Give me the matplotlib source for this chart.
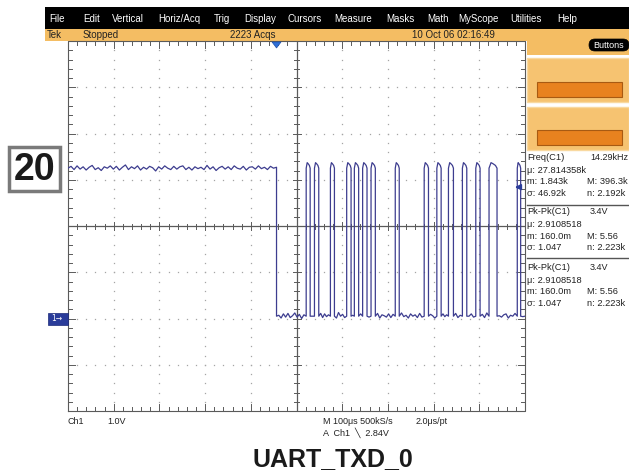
import numpy as np
import matplotlib
matplotlib.use("Agg")
import matplotlib.pyplot as plt
from matplotlib.patches import Rectangle, FancyBboxPatch, Polygon

# ---------------- data ----------------
menu_items = ["File", "Edit", "Vertical", "Horiz/Acq", "Trig", "Display", "Cursors",
              "Measure", "Masks", "Math", "MyScope", "Utilities", "Help"]
status_items = ["Tek", "Stopped", "2223 Acqs", "10 Oct 06 02:16:49"]

volts_per_div = 1.0
time_per_div = 100.0          # microseconds
high_level = 3.25             # V
low_level = 0.05              # V
trigger_fall = -43.7          # us
pulse_rise = [21.2, 39.3, 74.2, 109.8, 126.6, 144.7, 163.1, 216.1, 279.4,
              307.1, 332.5, 363.0, 392.3, 421.3, 483.1]
pulse_fall = [29.9, 48.7, 83.0, 119.4, 136.0, 154.3, 172.5, 224.8, 288.8,
              316.5, 343.4, 372.6, 401.7, 438.8, 490.5]
high_ripple = [0.00, 0.04, -0.03, 0.05, -0.02, 0.03, -0.04, 0.02, 0.06, -0.03,
               0.01, -0.05, 0.03, 0.00, 0.05, -0.02, 0.04, -0.04, 0.02, 0.07,
               -0.03, 0.03, -0.01, 0.05, -0.04, 0.02, -0.02, 0.04, 0.01, -0.06,
               0.03, -0.02, 0.05, 0.00, -0.03, 0.04, -0.02, 0.03, 0.05, -0.03,
               0.02, -0.04, 0.03, -0.01, 0.02, -0.03, 0.06, -0.02, 0.03, -0.05,
               0.01, 0.04, -0.02, 0.03, -0.03, 0.05, 0.00, -0.02, 0.04, -0.04,
               0.02, 0.03, -0.02, 0.05, -0.01, 0.02, -0.03, 0.04, 0.00, 0.02]
low_ripple = [0.02, -0.04, 0.05, -0.02, 0.06, -0.03, 0.01, 0.07, -0.02, 0.04,
              -0.05, 0.03, 0.00, 0.06, -0.03, 0.05, -0.01, 0.03, -0.04, 0.08,
              0.00, 0.04, -0.03, 0.02, 0.05, -0.02, 0.06, -0.04, 0.03, 0.01,
              -0.02, 0.05, -0.03, 0.04, 0.07, -0.01, 0.02, -0.04, 0.05, 0.00,
              0.03, -0.03, 0.06, -0.02, 0.04, 0.01, -0.04, 0.05, -0.01, 0.03,
              0.06, -0.03, 0.02, 0.00, 0.05, -0.02, 0.04, -0.03, 0.07, 0.01,
              -0.02, 0.03, 0.05, -0.04, 0.02, 0.00, 0.06, -0.01, 0.03, -0.03,
              0.04, 0.01, -0.02, 0.05, 0.00, 0.03, -0.04, 0.06, 0.02, -0.01,
              0.04, -0.03, 0.02, 0.05, -0.02, 0.03, 0.00, -0.03, 0.04, 0.01]
pulse_overshoot = 0.12

meas_blocks = [
    [("Freq(C1)", "14.29kHz"), ("\u03bc: 27.814358k", ""), ("m: 1.843k", "M: 396.3k"), ("\u03c3: 46.92k", "n: 2.192k")],
    [("Pk-Pk(C1)", "3.4V"), ("\u03bc: 2.9108518", ""), ("m: 160.0m", "M: 5.56"), ("\u03c3: 1.047", "n: 2.223k")],
    [("Pk-Pk(C1)", "3.4V"), ("\u03bc: 2.9108518", ""), ("m: 160.0m", "M: 5.56"), ("\u03c3: 1.047", "n: 2.223k")],
]
ch_label = ["Ch1", "1.0V"]
horiz_label = ["M 100\u03bcs 500kS/s", "2.0\u03bcs/pt"]
trig_label = "A  Ch1  \u2572  2.84V"
trigger_level = 2.84
figure_number = "20"
caption = "UART_TXD_0"

# ---------------- layout ----------------
W, H = 629, 474
fig = plt.figure(figsize=(W / 100, H / 100), dpi=100)
fig.patch.set_facecolor("white")

bg = fig.add_axes([0, 0, 1, 1], zorder=0)
bg.set_xlim(0, W); bg.set_ylim(H, 0); bg.axis("off")

GL, GR, GT, GB = 68, 525, 41, 411
ax = fig.add_axes([GL / W, (H - GB) / H, (GR - GL) / W, (GB - GT) / H], zorder=1)
ax.patch.set_alpha(0)
ax.set_xlim(-5 * time_per_div, 5 * time_per_div)
ax.set_ylim(-2 * volts_per_div, 6 * volts_per_div)
ax.axis("off")

top = fig.add_axes([0, 0, 1, 1], zorder=3)
top.patch.set_alpha(0)
top.set_xlim(0, W); top.set_ylim(H, 0); top.axis("off")

font = ["Liberation Sans", "DejaVu Sans"]

# menu bar
bg.add_patch(Rectangle((45, 7), W - 45, 22, color="black", lw=0))
menu_x = [49, 83, 112, 158, 214, 244, 287, 334, 386, 427, 458, 510, 557]
for name, x in zip(menu_items, menu_x):
    bg.text(x, 18.5, name, color="white", fontsize=7, family=font, va="center", ha="left")

# status bar + right orange panel
orange = "#f4bd63"
bg.add_patch(Rectangle((45, 29), W - 45, 12, color=orange, lw=0))
bg.add_patch(Rectangle((527, 29), W - 527, 26, color=orange, lw=0))
status_x = [47, 83, 230, 412]
for name, x in zip(status_items, status_x):
    bg.text(x, 35, name, color="#222222", fontsize=7, family=font, va="center", ha="left")
for y0, y1, by in [(58, 102, 82), (107, 150, 130)]:
    bg.add_patch(Rectangle((527, y0), W - 527, y1 - y0, facecolor="#f6c371",
                           edgecolor="#f9d9a0", lw=1))
    bg.add_patch(Rectangle((537, by), 85, 15, facecolor="#e8821f",
                           edgecolor="#a85a12", lw=0.8))
bg.add_patch(FancyBboxPatch((589, 39), 40, 12, boxstyle="round,pad=0,rounding_size=6",
                            facecolor="black", edgecolor="black", lw=0.5))
bg.text(609, 45, "Buttons", color="white", fontsize=6.5, family=font, ha="center", va="center")

# measurement panel
block_y = [158, 212, 268]
line_dy = [0, 12.5, 24, 35.5]
for blk, y0 in zip(meas_blocks, block_y):
    for (a, b), dy in zip(blk, line_dy):
        bg.text(527, y0 + dy, a, fontsize=6.7, family=font, va="center", ha="left", color="#222222")
        if b:
            bx = 590 if dy == 0 else 587
            bg.text(bx, y0 + dy, b, fontsize=6.5 if dy == 0 else 6.7, family=font,
                    va="center", ha="left", color="#222222")
for ys in [205, 258]:
    bg.plot([527, W], [ys, ys], color="#555555", lw=1)

# figure-number box
bg.add_patch(Rectangle((9, 147), 51, 44, facecolor="white", edgecolor="#7a7a7a", lw=2.5))
bg.text(34.5, 170, figure_number, fontsize=27, fontweight="bold", family=font,
        ha="center", va="center", color="#1a1a1a")

# bottom labels
bg.text(68, 422, ch_label[0], fontsize=6.5, family=font, va="center", color="#222222")
bg.text(107, 422, ch_label[1], fontsize=6.5, family=font, va="center", color="#222222")
bg.text(323, 422, horiz_label[0], fontsize=6.5, family=font, va="center", color="#222222")
bg.text(416, 422, horiz_label[1], fontsize=6.5, family=font, va="center", color="#222222")
bg.text(323, 433, trig_label, fontsize=6.5, family=font, va="center", color="#222222")
bg.text(333, 459, caption, fontsize=18, fontweight="bold", family=font,
        ha="center", va="center", color="#1a1a1a")

# ---------------- graticule ----------------
px_t = (10 * time_per_div) / (GR - GL)
px_v = (8 * volts_per_div) / (GB - GT)
xmin, xmax = -5 * time_per_div, 5 * time_per_div
ymin, ymax = -2 * volts_per_div, 6 * volts_per_div
xc, yc = 0.0, 2 * volts_per_div
gcol = "#5a5a5a"
lw = 0.8

# dotted grid
major_x = [xmin + i * time_per_div for i in range(1, 10) if i != 5]
major_y = [ymin + j * volts_per_div for j in range(1, 8) if j != 4]
minor_x = [xmin + i * time_per_div / 5 for i in range(1, 50)]
minor_y = [ymin + j * volts_per_div / 5 for j in range(1, 40)]
dx, dy_ = [], []
for mx in major_x:
    for my in minor_y:
        dx.append(mx); dy_.append(my)
for my in major_y:
    for mx in minor_x:
        dx.append(mx); dy_.append(my)
ax.plot(dx, dy_, ls="none", marker="s", ms=0.9, mec="none", mfc="#a5a5a5")

# frame
ax.plot([xmin, xmax, xmax, xmin, xmin], [ymin, ymin, ymax, ymax, ymin], color=gcol, lw=lw, clip_on=False)
# center lines
ax.plot([xmin, xmax], [yc, yc], color=gcol, lw=0.9)
ax.plot([xc, xc], [ymin, ymax], color=gcol, lw=0.9)

segs = []
for i in range(1, 50):
    x = xmin + i * time_per_div / 5
    major = (i % 5 == 0)
    L = 7 if major else 4
    segs.append(([x, x], [ymin, ymin + L * px_v]))
    segs.append(([x, x], [ymax, ymax - L * px_v]))
    c = 4 if major else 2.5
    segs.append(([x, x], [yc - c * px_v, yc + c * px_v]))
for j in range(1, 40):
    y = ymin + j * volts_per_div / 5
    major = (j % 5 == 0)
    L = 7 if major else 4
    segs.append(([xmin, xmin + L * px_t], [y, y]))
    segs.append(([xmax, xmax - L * px_t], [y, y]))
    c = 4 if major else 2.5
    segs.append(([xc - c * px_t, xc + c * px_t], [y, y]))
for sx, sy in segs:
    ax.plot(sx, sy, color=gcol, lw=0.7)

# ---------------- waveform ----------------
tt, vv = [], []
pre_t = np.linspace(xmin, trigger_fall, len(high_ripple))
for t0, r in zip(pre_t, high_ripple):
    tt.append(t0); vv.append(high_level + r)
k = 0
low_starts = [trigger_fall] + pulse_fall
low_ends = pulse_rise + [xmax]
for i, (a, b) in enumerate(zip(low_starts, low_ends)):
    tt.append(a); vv.append(low_level)
    n = max(1, int((b - a) / 5))
    inner = np.linspace(a, b, n + 2)[1:-1]
    for t0 in inner:
        vv.append(low_level + low_ripple[k % len(low_ripple)]); tt.append(t0); k += 1
    tt.append(b); vv.append(low_level)
    if i < len(pulse_rise):
        r, f = pulse_rise[i], pulse_fall[i]
        w = f - r
        tt += [r, r + 0.25 * w, r + 0.5 * w, f - 0.2 * w, f]
        vv += [high_level, high_level + pulse_overshoot, high_level + pulse_overshoot * 0.8,
               high_level + pulse_overshoot * 0.5, high_level]
ax.plot(tt, vv, color="#3d3d8f", lw=0.9, clip_on=True)

# ---------------- markers ----------------
gy = GB - (0 - ymin) / px_v
top.add_patch(Rectangle((48, gy - 6), 20, 12, facecolor="#2a3c9a", edgecolor="#1b2a78", lw=0.5))
top.text(57, gy, "1\u2192", color="white", fontsize=5.5, family="DejaVu Sans", ha="center", va="center")
ty = GB - (trigger_level - ymin) / px_v
top.annotate("", xy=(512, ty), xytext=(523, ty),
             arrowprops=dict(arrowstyle="-|>", color="#2a3c9a", lw=1.3, mutation_scale=8))
tx = GL + (trigger_fall - xmin) / px_t
top.add_patch(Polygon([[tx - 4.5, 42], [tx + 4.5, 42], [tx, 48]], closed=True,
                      facecolor="#2f6fd6", edgecolor="#1d4fa8", lw=0.5))

fig.savefig("out.png", dpi=100, facecolor="white")
